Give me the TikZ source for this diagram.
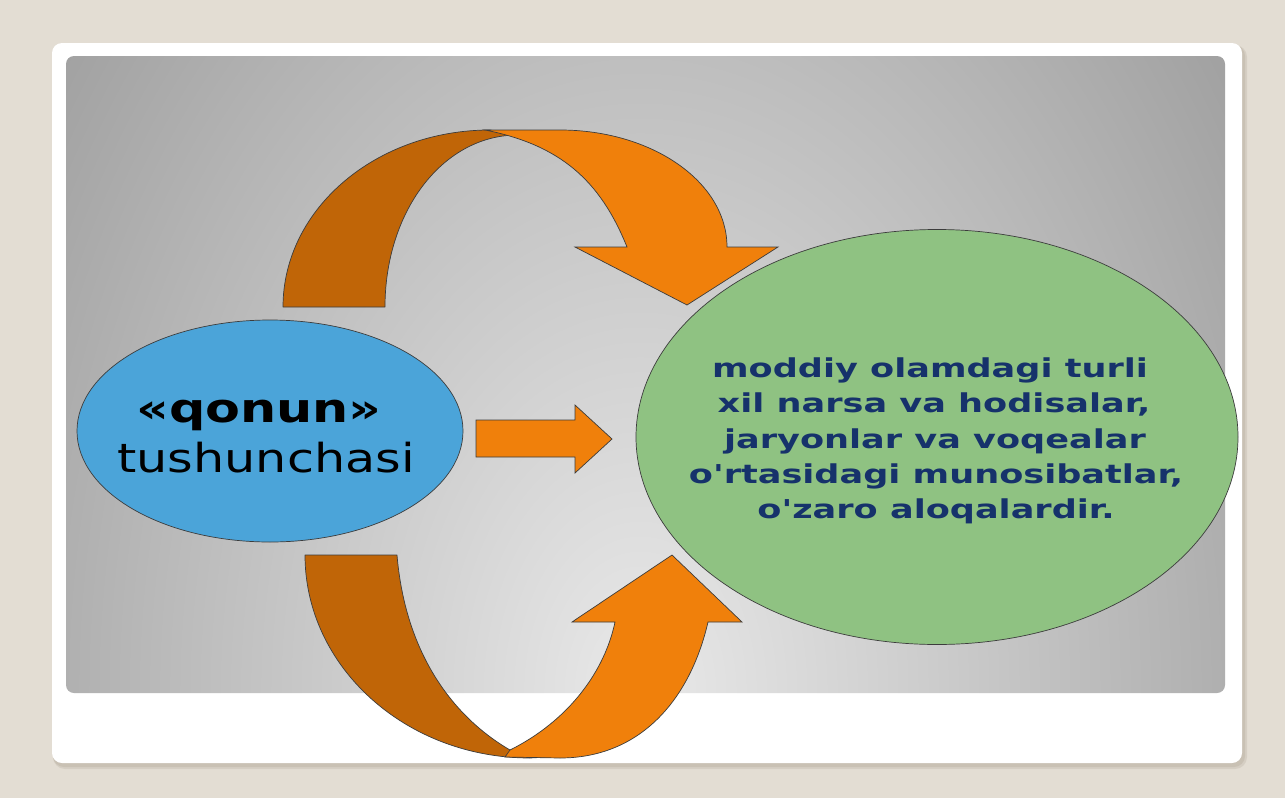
\documentclass[tikz,border=0pt]{standalone}
\usepackage{fontspec}
\setmainfont{DejaVu Sans}
\usetikzlibrary{shapes.geometric}
\definecolor{bgbeige}{HTML}{E3DDD3}
\definecolor{shadowc}{HTML}{C9C1B4}
\definecolor{panelin}{HTML}{E9E9E9}
\definecolor{panelout}{HTML}{A0A0A0}
\definecolor{qblue}{HTML}{4BA4D9}
\definecolor{qgreen}{HTML}{8FC282}
\definecolor{obright}{HTML}{F0800B}
\definecolor{odark}{HTML}{C06507}
\definecolor{navy}{HTML}{16326B}
\definecolor{edge}{HTML}{3C3C3C}
\tikzset{
  blob/.style={draw=edge, line width=0.7pt, ellipse, inner sep=0pt},
  darkpart/.style={fill=odark, draw=edge, line width=0.7pt, line join=round},
  brightpart/.style={fill=obright, draw=edge, line width=0.7pt, line join=miter},
  lefttxt/.style={anchor=base, inner sep=0pt, font=\fontsize{40}{50}\selectfont, text=black},
  righttxt/.style={anchor=base, inner sep=0pt, font=\fontsize{26}{35}\bfseries, text=navy},
}
\begin{document}
\begin{tikzpicture}[x=1pt,y=-1pt]
\useasboundingbox (0,0) rectangle (1285,798);
\fill[bgbeige] (0,0) rectangle (1285,798);
% card shadow and card
\fill[shadowc, opacity=0.5, rounded corners=12pt] (53,45) rectangle (1247,769);
\fill[shadowc, rounded corners=11pt] (53,45) rectangle (1245,767);
\fill[white, rounded corners=10pt] (52,43) rectangle (1242,763);
% gray panel
\begin{scope}
  \clip[rounded corners=8pt] (66,56) rectangle (1225,693);
  \shade[inner color=panelin, outer color=panelout] (640,693) ellipse [x radius=738pt, y radius=1090pt];
\end{scope}
% ellipses
\node[blob, fill=qblue, minimum width=386pt, minimum height=222pt] (qonun) at (270,431) {};
\node[blob, fill=qgreen, minimum width=602pt, minimum height=415pt] (ta) at (937,437) {};
% left text
\node[lefttxt] (q1) at (259,422) {\scalebox{1.27}[1]{\bfseries «qonun»}};
\node[lefttxt] (q2) at (266,472) {\scalebox{1.23}[1]{tushunchasi}};
% right text
\node[righttxt] (r1) at (930,377) {\scalebox{1.35}[1]{moddiy olamdagi turli}};
\node[righttxt] (r2) at (934,412.5) {\scalebox{1.35}[1]{xil narsa va hodisalar,}};
\node[righttxt] (r3) at (935,448) {\scalebox{1.35}[1]{jaryonlar va voqealar}};
\node[righttxt] (r4) at (936,483) {\scalebox{1.35}[1]{o\textquotesingle rtasidagi munosibatlar,}};
\node[righttxt] (r5) at (936,518) {\scalebox{1.35}[1]{o\textquotesingle zaro aloqalardir.}};
% middle arrow
\draw[brightpart] (476,420) -- (575,420) -- (575,405) -- (612,439) -- (575,473) -- (575,457) -- (476,457) -- cycle;
% top curved arrow
\draw[darkpart] (283,307) .. controls (283,209) and (376,130) .. (490,130)
  -- (515,135) .. controls (441,137) and (385,213) .. (385,307) -- cycle;
\draw[brightpart] (485,130) -- (560,130) .. controls (652,130) and (727,182) .. (727,247)
  -- (778,247) -- (687,305) -- (575,247) -- (627,247)
  .. controls (600,180) and (560,145) .. (485,130) -- cycle;
% bottom curved arrow
\draw[darkpart] (305,555) -- (397,555) .. controls (405,650) and (450,715) .. (510,750)
  -- (548,757) -- (530,758) .. controls (406,758) and (305,667) .. (305,555) -- cycle;
\draw[brightpart] (510,750) .. controls (570,720) and (605,670) .. (615,622)
  -- (572,622) -- (672,555) -- (742,622) -- (708,622)
  .. controls (690,700) and (640,758) .. (560,758) -- (505,757) -- cycle;
\end{tikzpicture}
\end{document}
